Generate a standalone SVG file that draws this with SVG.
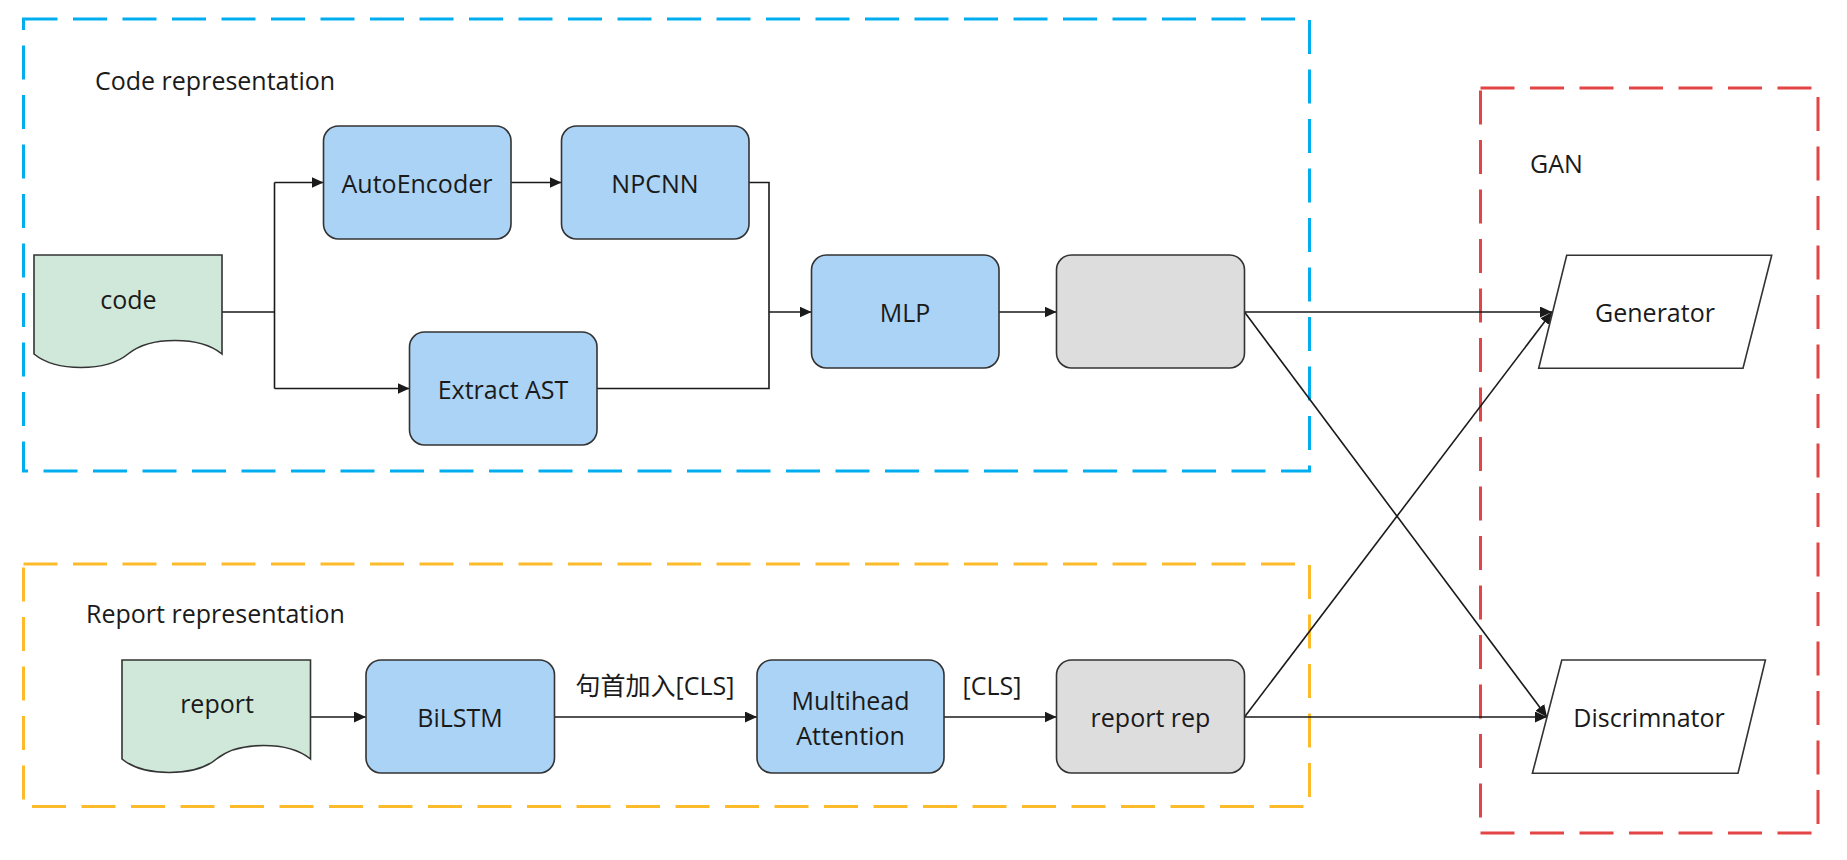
<svg xmlns="http://www.w3.org/2000/svg" width="1847" height="860" viewBox="0 0 1847 860">
<style>
text{font-family:"Open Sans","Noto Sans CJK SC",sans-serif;font-size:25px;fill:#1a1a1a}
.c{text-anchor:middle}
.box{fill:#abd3f5;stroke:#333;stroke-width:1.6}
.gray{fill:#dddddd;stroke:#333;stroke-width:1.6}
.doc{fill:#cfe8d9;stroke:#333;stroke-width:1.6}
.para{fill:#ffffff;stroke:#333;stroke-width:1.6}
.grp{fill:none;stroke-width:3;stroke-dasharray:34 15.5}
.conn path{fill:none;stroke:#1a1a1a;stroke-width:1.6}
</style>
<defs>
<marker id="arr" markerUnits="userSpaceOnUse" markerWidth="14" markerHeight="12" refX="12" refY="5.5" orient="auto" viewBox="0 0 14 12">
<path d="M0,0 L12,5.5 L0,11 Z" fill="#1a1a1a"/>
</marker>
</defs>
<rect width="1847" height="860" fill="#ffffff"/>
<g id="group-code">
<rect class="grp" x="23.5" y="19" width="1286" height="452" stroke="#00aeef"/>
<text x="95" y="90">Code representation</text>
</g>
<g id="group-report">
<rect class="grp" x="23.5" y="564" width="1286" height="242.5" stroke="#fdbb2b"/>
<text x="86" y="623">Report representation</text>
</g>
<g id="group-gan">
<rect class="grp" x="1480.5" y="88" width="337.5" height="745" stroke="#e34444"/>
<text x="1530" y="173">GAN</text>
</g>
<g id="connectors" class="conn">
<path d="M222,312 H274.5"/>
<path d="M274.5,182.5 V388.5"/>
<path d="M274.5,182.5 H323.5" marker-end="url(#arr)"/>
<path d="M274.5,388.5 H409.5" marker-end="url(#arr)"/>
<path d="M511,182.5 H561.5" marker-end="url(#arr)"/>
<path d="M749,182.5 H769 V312"/>
<path d="M597,388.5 H769 V312"/>
<path d="M769,312 H811.5" marker-end="url(#arr)"/>
<path d="M999,312 H1056.5" marker-end="url(#arr)"/>
<path d="M1244.5,312 L1552,312" marker-end="url(#arr)"/>
<path d="M1244.5,312 L1547,717" marker-end="url(#arr)"/>
<path d="M310.7,717 H366" marker-end="url(#arr)"/>
<path d="M554.5,717 H757" marker-end="url(#arr)"/>
<path d="M944,717 H1056.5" marker-end="url(#arr)"/>
<path d="M1244.5,717 L1547,717" marker-end="url(#arr)"/>
<path d="M1244.5,717 L1552,312" marker-end="url(#arr)"/>
<text x="655" y="695" class="c">句首加入[CLS]</text>
<text x="992" y="695" class="c">[CLS]</text>
</g>
<g id="node-code">
<path class="doc" d="M34,255 H222 V354 C200,336 150,336 128,354 C106,372 56,372 34,354 Z"/>
<text x="128.5" y="309" class="c">code</text>
</g>
<g id="node-autoencoder">
<rect class="box" x="323.5" y="126" width="187.5" height="113" rx="15"/>
<text x="417" y="193" class="c">AutoEncoder</text>
</g>
<g id="node-npcnn">
<rect class="box" x="561.5" y="126" width="187.5" height="113" rx="15"/>
<text x="655" y="193" class="c">NPCNN</text>
</g>
<g id="node-extract-ast">
<rect class="box" x="409.5" y="332" width="187.5" height="113" rx="15"/>
<text x="503" y="399" class="c">Extract AST</text>
</g>
<g id="node-mlp">
<rect class="box" x="811.5" y="255" width="187.5" height="113" rx="15"/>
<text x="905" y="322" class="c">MLP</text>
</g>
<g id="node-code-rep">
<rect class="gray" x="1056.5" y="255" width="188" height="113" rx="15"/>
</g>
<g id="node-generator">
<polygon class="para" points="1566.7,255.3 1771.7,255.3 1743,368.3 1538.7,368.3"/>
<text x="1655" y="322" class="c">Generator</text>
</g>
<g id="node-report">
<path class="doc" d="M122,660 H310.5 V759 C288.5,741 238.5,741 216.5,759 C194.5,777 144,777 122,759 Z"/>
<text x="217" y="713" class="c">report</text>
</g>
<g id="node-bilstm">
<rect class="box" x="366" y="660" width="188.5" height="113" rx="15"/>
<text x="460" y="727" class="c">BiLSTM</text>
</g>
<g id="node-multihead">
<rect class="box" x="757" y="660" width="187" height="113" rx="15"/>
<text x="850.5" y="710" class="c">Multihead</text>
<text x="850.5" y="745" class="c">Attention</text>
</g>
<g id="node-report-rep">
<rect class="gray" x="1056.5" y="660" width="188" height="113" rx="15"/>
<text x="1150.5" y="727" class="c">report rep</text>
</g>
<g id="node-discriminator">
<polygon class="para" points="1561.8,660 1765.4,660 1738,773.3 1532.4,773.3"/>
<text x="1649" y="727" class="c">Discrimnator</text>
</g>
</svg>
